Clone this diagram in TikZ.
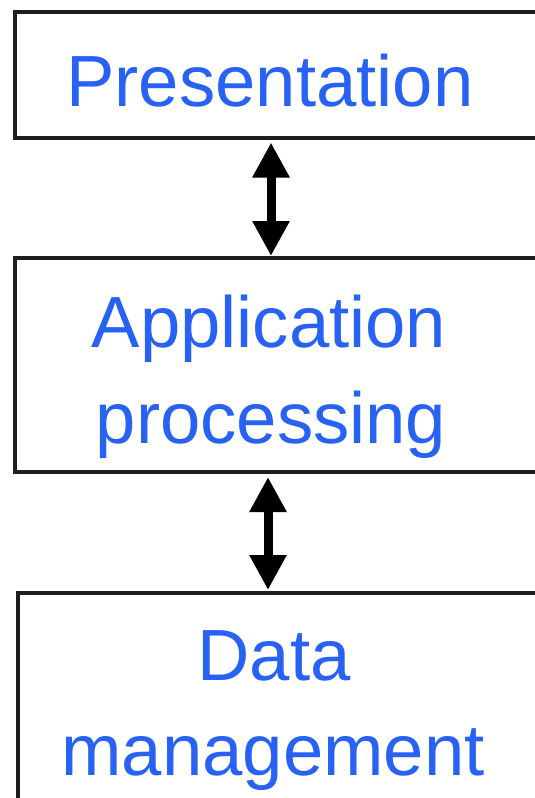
\documentclass[tikz,border=0pt]{standalone}
\usepackage{fontspec}
\setmainfont{Liberation Sans}
\usetikzlibrary{arrows.meta}
\definecolor{layerblue}{RGB}{40,98,245}
\definecolor{frame}{RGB}{30,30,30}
\tikzset{
  layerbox/.style={draw=frame, line width=4pt, rectangle, inner sep=0pt, fill=white},
  layertext/.style={text=layerblue, font=\fontsize{72.5}{96}\selectfont, inner sep=0pt, anchor=base},
  linkarrow/.style={line width=9pt, black,
    {Triangle[length=35pt, width=35pt]}-{Triangle[length=35pt, width=35pt]}}
}
\begin{document}
\begin{tikzpicture}[x=1pt, y=-1pt]
  \useasboundingbox (0,0) rectangle (535,798);
  \clip (0,0) rectangle (535,798);
  % three layers
  \node[layerbox, minimum width=545pt, minimum height=125.5pt] (box1) at (287.5,74.75) {};
  \node[layerbox, minimum width=545pt, minimum height=214pt] (box2) at (287.5,365) {};
  \node[layerbox, minimum width=542.5pt, minimum height=237pt] (box3) at (288.75,711.5) {};
  % labels
  \node[layertext] (t1) at (270,106) {Presentation};
  \node[layertext] (t2a) at (269,347) {Application};
  \node[layertext] (t2b) at (271,443) {processing};
  \node[layertext] (t3a) at (274,680) {Data};
  \node[layertext] (t3b) at (273,775) {management};
  % links between layers
  \coordinate (a1) at (271,0);
  \coordinate (a2) at (268,0);
  \draw[linkarrow, shorten <=3pt] (a1 |- box1.south) -- (a1 |- box2.north);
  \draw[linkarrow, shorten <=3pt, shorten >=1pt] (a2 |- box2.south) -- (a2 |- box3.north);
\end{tikzpicture}
\end{document}
